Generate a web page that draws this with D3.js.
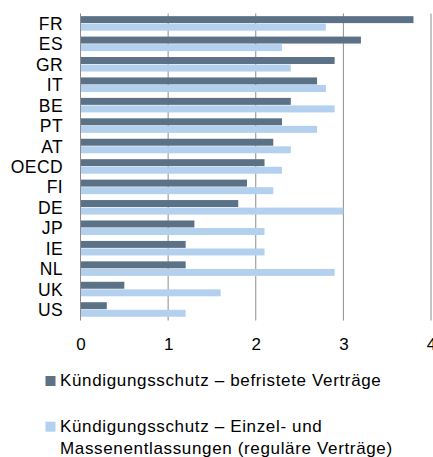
<!DOCTYPE html>
<html><head><meta charset="utf-8">
<script src="https://cdn.jsdelivr.net/npm/d3@7"></script>
<style>body{margin:0;background:#fff}svg{display:block}</style>
</head><body>
<script>
const categories = ["FR","ES","GR","IT","BE","PT","AT","OECD","FI","DE","JP","IE","NL","UK","US"];
const befristet = [3.8,3.2,2.9,2.7,2.4,2.3,2.2,2.1,1.9,1.8,1.3,1.2,1.2,0.5,0.3];
const regulaer = [2.8,2.3,2.4,2.8,2.9,2.7,2.4,2.3,2.2,3.0,2.1,2.1,2.9,1.6,1.2];
const xTicks = [0,1,2,3,4];
const seriesNames = ["Kündigungsschutz – befristete Verträge", ["Kündigungsschutz – Einzel- und","Massenentlassungen (reguläre Verträge)"]];
const colors = ["#5b7186","#b4d0ef"];

const W = 433, H = 457;
const svg = d3.select("body").append("svg").attr("width", W).attr("height", H);
const font = "'Liberation Sans', Arial, sans-serif";

const x = d3.scaleLinear().domain([0,4]).range([80.5, 431]);
const y = d3.scaleBand().domain(categories).range([13.5, 320]).paddingInner(0.26).paddingOuter(0.13);
const sub = d3.scaleBand().domain([0,1]).range([0, y.bandwidth()]);

// gridlines
svg.append("g").selectAll("line").data(xTicks.slice(1)).join("line")
  .attr("x1", d => x(d)).attr("x2", d => x(d))
  .attr("y1", 13.5).attr("y2", 320.5)
  .attr("stroke", "#8c8c8c").attr("stroke-width", 1);

const series = [befristet, regulaer];
series.forEach((vals, si) => {
  svg.append("g").selectAll("rect").data(categories).join("rect")
    .attr("x", x(0))
    .attr("y", (c) => y(c) + sub(si))
    .attr("width", (c, i) => x(vals[i]) - x(0))
    .attr("height", sub.bandwidth() - 0.6)
    .attr("fill", colors[si]);
});

// y axis line
svg.append("line").attr("x1", 80.5).attr("x2", 80.5).attr("y1", 13.5).attr("y2", 320.5)
  .attr("stroke", "#8c8c8c").attr("stroke-width", 1);

// category labels
svg.append("g").selectAll("text").data(categories).join("text")
  .attr("x", 63).attr("y", c => y(c) + y.bandwidth()/2)
  .attr("dy", "0.36em").attr("text-anchor", "end")
  .attr("font-family", font).attr("font-size", 17.5).attr("letter-spacing", 0.4).attr("fill", "#000")
  .text(c => c);

// x tick labels
const xAxis = d3.axisBottom(x).tickValues(xTicks).tickFormat(d3.format("d")).tickSize(0).tickPadding(0);
const gx = svg.append("g").attr("transform", "translate(0,338)").call(xAxis);
gx.select(".domain").remove();
gx.selectAll("text").attr("font-family", font).attr("font-size", 17).attr("fill", "#000").attr("dy", "0.71em").attr("y", 0);

// legend
const leg = svg.append("g").attr("font-family", font).attr("font-size", 17).attr("letter-spacing", 0.65).attr("fill", "#000");
leg.append("rect").attr("x", 45.5).attr("y", 376).attr("width", 10).attr("height", 10).attr("fill", colors[0]);
leg.append("text").attr("x", 60).attr("y", 385.7).text(seriesNames[0]);
leg.append("rect").attr("x", 45.5).attr("y", 421.7).attr("width", 10).attr("height", 10).attr("fill", colors[1]);
const t2 = leg.append("text");
t2.append("tspan").attr("x", 60).attr("y", 431.7).text(seriesNames[1][0]);
t2.append("tspan").attr("x", 60).attr("y", 454).text(seriesNames[1][1]);
</script>
</body></html>
